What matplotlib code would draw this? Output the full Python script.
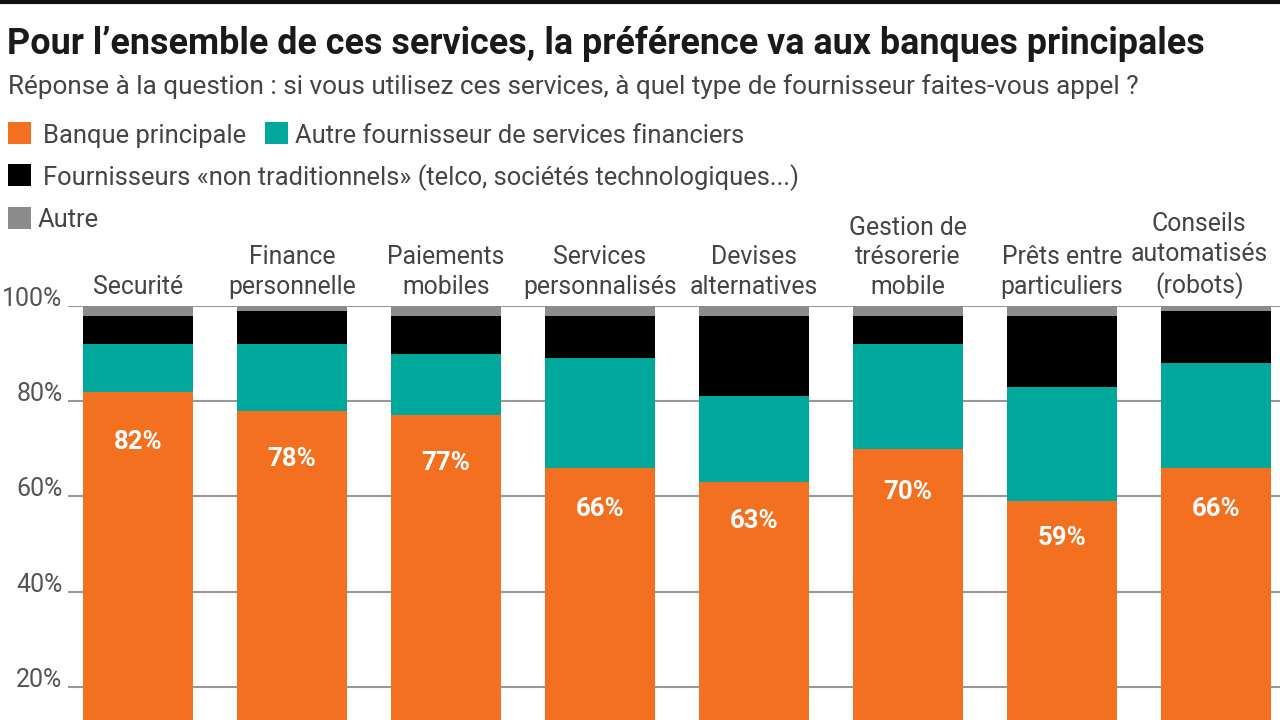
import matplotlib
matplotlib.use("Agg")
import matplotlib.pyplot as plt
from matplotlib.patches import Rectangle
from matplotlib.lines import Line2D

plt.rcParams['font.family'] = ['Roboto', 'DejaVu Sans']

categories = ["Securité", "Finance\npersonnelle", "Paiements\nmobiles", "Services\npersonnalisés",
              "Devises\nalternatives", "Gestion de\ntrésorerie\nmobile", "Prêts entre\nparticuliers",
              "Conseils\nautomatisés\n(robots)"]
banque = [82, 78, 77, 66, 63, 70, 59, 66]
autre_fournisseur = [10, 14, 13, 23, 18, 22, 24, 22]
non_traditionnels = [6, 7, 8, 9, 17, 6, 15, 11]
autre = [2, 1, 2, 2, 2, 2, 2, 1]
yticks = [20, 40, 60, 80, 100]
ytick_labels = ["20%", "40%", "60%", "80%", "100%"]

series_names = ["Banque principale", "Autre fournisseur de services financiers",
                "Fournisseurs «non traditionnels» (telco, sociétés technologiques...)", "Autre"]
colors = ["#F37021", "#00A89C", "#000000", "#8C8C8C"]

W, H = 1280, 720
fig = plt.figure(figsize=(12.8, 7.2), dpi=100)

def fx(x):
    return x / W

def fy(y):
    return 1 - y / H

# top rule
fig.add_artist(Line2D([0, 1], [fy(1.5), fy(1.5)], color="#111111", lw=3, transform=fig.transFigure))

fig.text(fx(7), fy(54), "Pour l’ensemble de ces services, la préférence va aux banques principales",
         fontsize=25.8, fontweight='bold', color="#1a1a1a", va='baseline', ha='left')
fig.text(fx(8), fy(94), "Réponse à la question : si vous utilisez ces services, à quel type de fournisseur faites-vous appel ?",
         fontsize=18.8, color="#444444", va='baseline', ha='left')

# legend: (square x, square top y, text x, text baseline y, series index)
legend_items = [
    (8, 122, 43, 143, 0),
    (265, 122, 295, 143, 1),
    (8, 164, 43, 185, 2),
    (8, 207, 38, 227, 3),
]
for sx, sy, tx, ty, idx in legend_items:
    fig.add_artist(Rectangle((fx(sx), fy(sy + 22)), 23 / W, 22 / H, transform=fig.transFigure,
                             facecolor=colors[idx], edgecolor='none'))
    fig.text(fx(tx), fy(ty), series_names[idx], fontsize=18.4, color="#444444", va='baseline', ha='left')

ax = fig.add_axes([fx(68), 0, 1 - fx(68), 414 / H])
x = list(range(len(categories)))
bw = 0.72
bottom = [0] * len(x)
for vals, c in zip([banque, autre_fournisseur, non_traditionnels, autre], colors):
    ax.bar(x, vals, bw, bottom=bottom, color=c, edgecolor='none', zorder=3)
    bottom = [b + v for b, v in zip(bottom, vals)]

for i, v in enumerate(banque):
    ax.text(i, v * 0.87, f"{v}%", ha='center', va='center', color='white',
            fontsize=18.5, fontweight='bold', zorder=4)

for i, lab in enumerate(categories):
    dx = -12 if i == len(categories) - 1 else 0
    ax.annotate(lab, xy=(i, 100), xytext=(dx, 5), textcoords='offset points', ha='center',
                va='bottom', fontsize=17.8, color="#444444", linespacing=1.3, annotation_clip=False)

ax.set_xlim(-0.455, 7.416)
ax.set_ylim(13, 100)
ax.set_yticks(yticks)
ax.set_yticklabels(ytick_labels)
ax.yaxis.grid(True, color="#999999", lw=1.5, zorder=0)
ax.tick_params(axis='y', length=0, pad=4, labelsize=18, labelcolor="#555555")
for lbl in ax.get_yticklabels():
    lbl.set_va('baseline')
ax.set_xticks([])
for s in ax.spines.values():
    s.set_visible(False)
ax.set_facecolor('white')
ax.set_axisbelow(True)

fig.savefig("out.png", dpi=100)
